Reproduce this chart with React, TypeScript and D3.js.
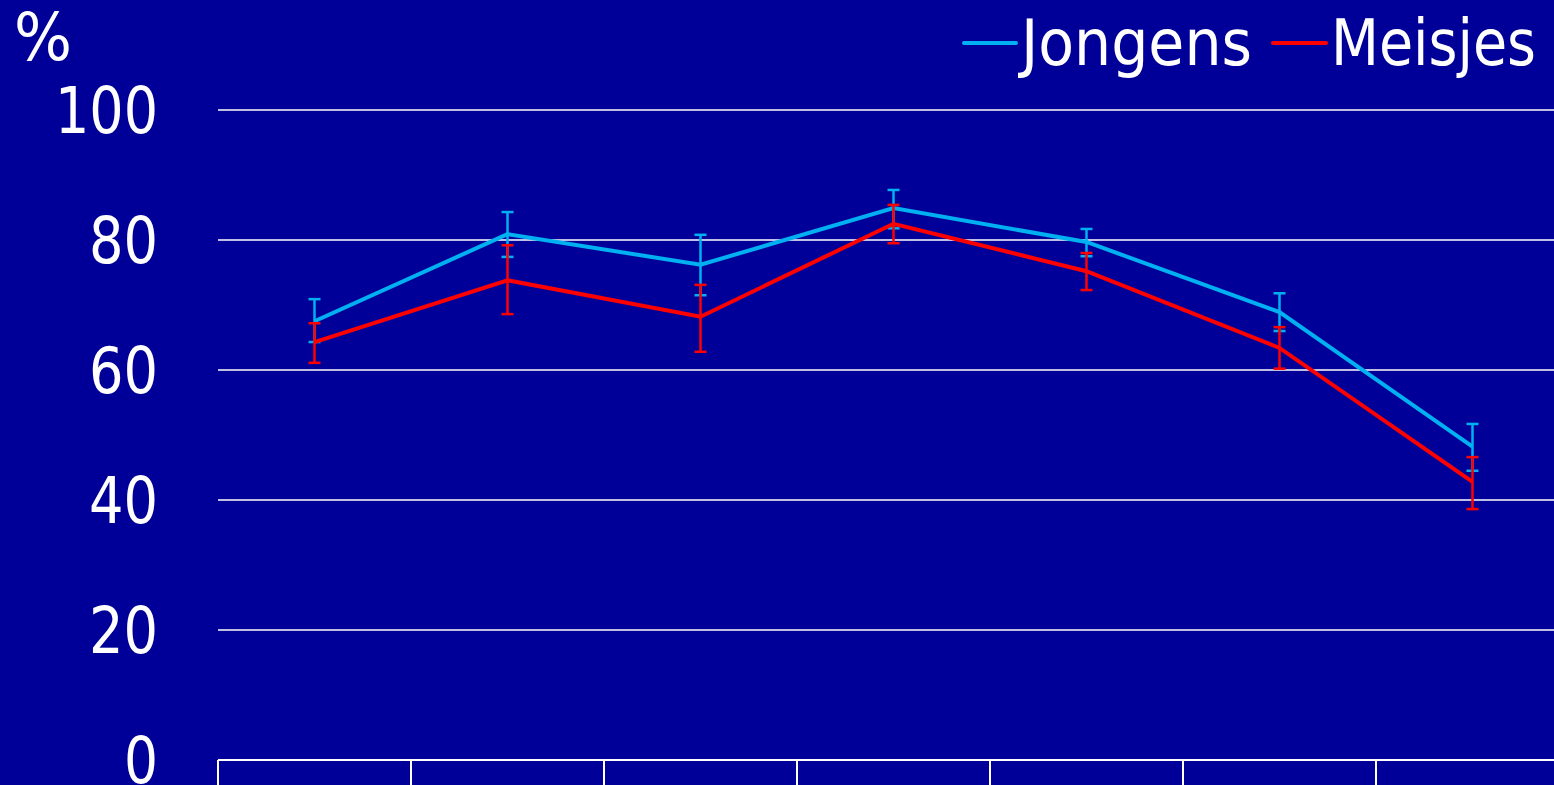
import React from "react";
import * as d3 from "d3";

const categories = ["1999", "2001", "2003", "2005", "2007", "2009", "2011"];
const yTicks = [0, 20, 40, 60, 80, 100];

const jongens = [67.5, 80.9, 76.2, 84.9, 79.7, 68.9, 48.2];
const jongensLow = [64.3, 77.4, 71.5, 81.8, 77.5, 66.0, 44.5];
const jongensHigh = [70.9, 84.3, 80.8, 87.7, 81.7, 71.8, 51.7];

const meisjes = [64.3, 73.8, 68.2, 82.5, 75.2, 63.4, 42.8];
const meisjesLow = [61.1, 68.6, 62.8, 79.5, 72.3, 60.2, 38.6];
const meisjesHigh = [67.2, 79.2, 73.1, 85.4, 78.0, 66.6, 46.6];

const W = 1554;
const H = 785;
const FONT = "'DejaVu Sans Condensed', 'DejaVu Sans', sans-serif";

export default function App() {
  const x = d3.scaleBand<string>().domain(categories).range([218, 218 + 193 * 7]);
  const y = d3.scaleLinear().domain([0, 100]).range([760, 110]);
  const cx = (i: number) => (x(categories[i]) as number) + x.bandwidth() / 2;
  const line = d3
    .line<number>()
    .x((_, i) => cx(i))
    .y((d) => y(d));

  const series = [
    { name: "Jongens", color: "#00B0F0", vals: jongens, lo: jongensLow, hi: jongensHigh },
    { name: "Meisjes", color: "#FF0000", vals: meisjes, lo: meisjesLow, hi: meisjesHigh },
  ];

  const boundaries = categories.map((c) => x(c) as number).concat([(x(categories[6]) as number) + x.bandwidth()]);

  return (
    <div style={{ position: "absolute", left: 0, top: 0, width: W, height: H, overflow: "hidden" }}>
      <svg width={W} height={H} style={{ display: "block" }}>
        <rect x={0} y={0} width={W} height={H} fill="#000099" />
        {yTicks.map((t) => (
          <g key={t}>
            {t > 0 && (
              <line x1={218} x2={W} y1={y(t)} y2={y(t)} stroke="#ffffff" strokeWidth={1.6} />
            )}
            <text
              x={158}
              y={y(t) + 23}
              textAnchor="end"
              fill="#ffffff"
              fontFamily={FONT}
              fontSize={64}
              textLength={t === 100 ? 103 : t === 0 ? 34 : 69}
              lengthAdjust="spacingAndGlyphs"
            >
              {t}
            </text>
          </g>
        ))}
        <line x1={218} x2={W} y1={760} y2={760} stroke="#ffffff" strokeWidth={2} />
        {boundaries.map((b, i) => (
          <line key={i} x1={b} x2={b} y1={760} y2={H} stroke="#ffffff" strokeWidth={2} />
        ))}
        {categories.map((c, i) => (
          <text
            key={c}
            x={cx(i)}
            y={834}
            textAnchor="middle"
            fill="#ffffff"
            fillOpacity={0.6}
            fontFamily={FONT}
            fontSize={64}
          >
            {c}
          </text>
        ))}
        <text x={14} y={60} fill="#ffffff" fontFamily={FONT} fontSize={66} textLength={58} lengthAdjust="spacingAndGlyphs">
          %
        </text>
        {series.map((s) => (
          <g key={s.name}>
            <path d={line(s.vals) || ""} fill="none" stroke={s.color} strokeWidth={4} strokeLinejoin="miter" />
            {s.vals.map((v, i) => (
              <g key={i} stroke={s.color} strokeWidth={2.5}>
                <line x1={cx(i)} x2={cx(i)} y1={y(s.lo[i])} y2={y(s.hi[i])} />
                <line x1={cx(i) - 6} x2={cx(i) + 6} y1={y(s.lo[i])} y2={y(s.lo[i])} />
                <line x1={cx(i) - 6} x2={cx(i) + 6} y1={y(s.hi[i])} y2={y(s.hi[i])} />
              </g>
            ))}
          </g>
        ))}
        {/* legend */}
        <line x1={964} x2={1016} y1={43} y2={43} stroke="#00B0F0" strokeWidth={4} strokeLinecap="round" />
        <text x={1021} y={65} fill="#ffffff" fontFamily={FONT} fontSize={64} textLength={231} lengthAdjust="spacingAndGlyphs">
          Jongens
        </text>
        <line x1={1273} x2={1326} y1={43} y2={43} stroke="#FF0000" strokeWidth={4} strokeLinecap="round" />
        <text x={1331} y={65} fill="#ffffff" fontFamily={FONT} fontSize={64} textLength={205} lengthAdjust="spacingAndGlyphs">
          Meisjes
        </text>
      </svg>
    </div>
  );
}
